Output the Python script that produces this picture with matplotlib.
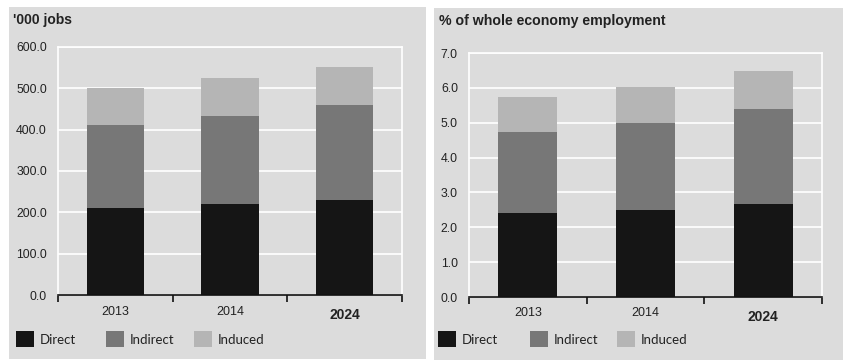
import numpy as np
import matplotlib
matplotlib.use("Agg")
import matplotlib.pyplot as plt
from matplotlib.patches import Rectangle

# employment supported, '000 jobs
years = ["2013", "2014", "2024"]
jobs_direct = [210, 219, 230]
jobs_indirect = [202, 215, 230]
jobs_induced = [88, 92, 92]

# share of whole economy employment, %
pct_direct = [2.42, 2.50, 2.66]
pct_indirect = [2.31, 2.48, 2.73]
pct_induced = [1.01, 1.04, 1.08]

series_names = ["Direct", "Indirect", "Induced"]
colors = ["#151515", "#777777", "#b5b5b5"]

W, H = 843, 360
bg = "#dcdcdc"

fig = plt.figure(figsize=(W / 100, H / 100), dpi=100)
fig.patch.set_facecolor("white")

def box(x0, y0, x1, y1):
    # pixel box (top-left origin) -> figure fractions
    return [x0 / W, 1 - y1 / H, (x1 - x0) / W, (y1 - y0) / H]

# grey panels behind each chart
for (x0, y0, x1, y1) in [(9, 7, 426, 359), (434, 8, 843, 360)]:
    b = box(x0, y0, x1, y1)
    fig.patches.append(Rectangle((b[0], b[1]), b[2], b[3], transform=fig.transFigure,
                                 facecolor=bg, edgecolor="none", zorder=-1))

def stacked(ax, vals, ymax, step):
    x = np.arange(len(years))
    bottom = np.zeros(len(years))
    for v, c in zip(vals, colors):
        ax.bar(x, v, width=0.5, bottom=bottom, color=c, zorder=3)
        bottom += np.array(v)
    ax.set_zorder(2)
    ax.set_facecolor(bg)
    ax.set_xlim(-0.5, len(years) - 0.5)
    ax.set_ylim(0, ymax)
    ax.set_yticks(np.arange(0, ymax + step / 2, step))
    ax.set_yticklabels([f"{t:.1f}" for t in ax.get_yticks()], fontsize=8.8,
                       family="Liberation Sans", color="#222222")
    ax.tick_params(axis="y", length=0, pad=8)
    ax.grid(axis="y", color="white", linewidth=1.2, zorder=1)
    for s in ["top", "left", "right"]:
        ax.spines[s].set_color("white")
        ax.spines[s].set_linewidth(1.2)
    ax.spines["bottom"].set_color("#111111")
    ax.spines["bottom"].set_linewidth(1.2)
    ax.spines["bottom"].set_zorder(4)
    # category boundary ticks on the bottom axis
    ax.set_xticks(np.arange(-0.5, len(years), 1.0))
    ax.set_xticklabels([])
    ax.tick_params(axis="x", length=5, width=1.2, color="#111111")
    for i, yr in enumerate(years):
        last = i == len(years) - 1
        ax.text(i, -0.067 if not last else -0.08, yr, transform=ax.get_xaxis_transform(),
                ha="center", va="center", family="Liberation Sans",
                fontsize=10 if last else 9, fontweight="bold" if last else "normal",
                color="#222222")

ax1 = fig.add_axes(box(58, 47, 402, 295))
stacked(ax1, [jobs_direct, jobs_indirect, jobs_induced], 600, 100)
ax2 = fig.add_axes(box(469, 53, 822, 297))
stacked(ax2, [pct_direct, pct_indirect, pct_induced], 7, 1)

fig.text(13 / W, 1 - 20 / H, "'000 jobs", fontsize=10, fontweight="bold",
         family="Liberation Sans", color="#222222", va="center")
fig.text(439 / W, 1 - 21 / H, "% of whole economy employment", fontsize=10.2,
         fontweight="bold", family="Liberation Sans", color="#222222", va="center")

# legend keys under each chart
for starts in [(16, 106, 194), (438, 530, 617)]:
    for x0, name, c in zip(starts, series_names, colors):
        b = box(x0, 331, x0 + 18, 347)
        fig.patches.append(Rectangle((b[0], b[1]), b[2], b[3], transform=fig.transFigure,
                                     facecolor=c, edgecolor="none"))
        fig.text((x0 + 24) / W, 1 - 340 / H, name, fontsize=9.5, family="Lato",
                 color="#222222", va="center")

fig.savefig("out.png", dpi=100, facecolor=fig.get_facecolor())
